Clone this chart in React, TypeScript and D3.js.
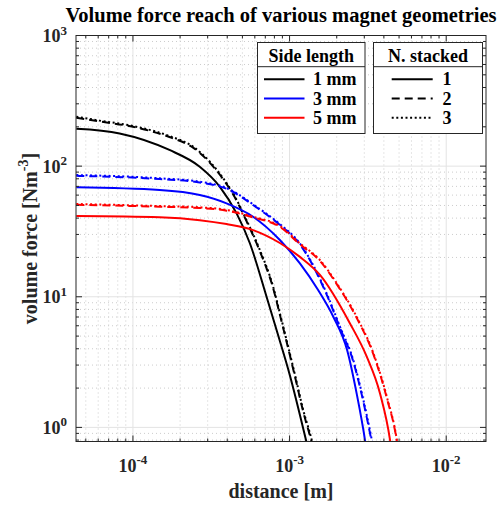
import React from "react";
import * as d3 from "d3";

const TITLE = "Volume force reach of various magnet geometries";
const X_LABEL = "distance [m]";
const Y_LABEL_MAIN = "volume force [Nm";
const Y_LABEL_SUP = "-3";
const Y_LABEL_END = "]";

const X_LIMITS = [4.33e-5, 0.01795];
const Y_LIMITS = [0.78, 1000];
const X_TICK_EXPONENTS = [-4, -3, -2];
const Y_TICK_EXPONENTS = [0, 1, 2, 3];

const SIDE_LENGTHS = ["1 mm", "3 mm", "5 mm"];
const STACK_COUNTS = ["1", "2", "3"];

// [distance (m), volume force (N m^-3)]
const side1_n1: [number, number][] = [
  [4.35e-5, 193], [8.22e-5, 178], [1.71e-4, 133], [2.67e-4, 99], [3.59e-4, 69.5],
  [4.59e-4, 43.5], [5.57e-4, 25.8], [7.13e-4, 10], [8.26e-4, 5.56], [1.004e-3, 2.51],
  [1.273e-3, 0.8], [1.3e-3, 0.72],
];
const side1_n2: [number, number][] = [
  [4.35e-5, 235], [6.12e-5, 220], [1.0e-4, 200], [1.71e-4, 167], [2.42e-4, 138.5],
  [3.1e-4, 106], [3.77e-4, 79.3], [4.36e-4, 60.8], [5.31e-4, 37.9], [6.46e-4, 22.3],
  [7.86e-4, 11.6], [8.67e-4, 7.3], [1.09e-3, 2.37], [1.222e-3, 1.32], [1.384e-3, 0.77],
  [1.42e-3, 0.68],
];
const side1_n3: [number, number][] = [
  [4.35e-5, 239], [6.12e-5, 223], [1.0e-4, 203], [1.71e-4, 170], [2.42e-4, 141],
  [3.1e-4, 108], [3.77e-4, 80.7], [4.36e-4, 61.9], [5.31e-4, 38.6], [6.46e-4, 22.8],
  [7.86e-4, 11.9], [8.67e-4, 7.5], [1.09e-3, 2.44], [1.222e-3, 1.36], [1.384e-3, 0.8],
  [1.42e-3, 0.7],
];
const side3_n1: [number, number][] = [
  [4.35e-5, 68.8], [1.48e-4, 65.6], [2.67e-4, 60.1], [3.96e-4, 51.9], [5.85e-4, 41.0],
  [8.67e-4, 27.2], [1.164e-3, 18.0], [1.518e-3, 11.3], [1.902e-3, 7.03], [2.33e-3, 3.91],
  [2.68e-3, 1.82], [3.03e-3, 0.8], [3.08e-3, 0.7],
];
const side3_n2: [number, number][] = [
  [4.35e-5, 84.3], [1.48e-4, 79.6], [2.67e-4, 75.0], [3.96e-4, 67.1], [6.15e-4, 48.3],
  [8.67e-4, 35.5], [1.164e-3, 25.2], [1.725e-3, 10.4], [2.1e-3, 5.76], [2.55e-3, 3.2],
  [2.96e-3, 1.57], [3.35e-3, 0.77], [3.42e-3, 0.68],
];
const side3_n3: [number, number][] = [
  [4.35e-5, 85.5], [1.48e-4, 80.7], [2.67e-4, 76.0], [3.96e-4, 68.0], [6.15e-4, 48.9],
  [8.67e-4, 36.0], [1.164e-3, 25.6], [1.725e-3, 10.6], [2.1e-3, 5.89], [2.55e-3, 3.28],
  [2.96e-3, 1.62], [3.35e-3, 0.8], [3.42e-3, 0.7],
];
const side5_n1: [number, number][] = [
  [4.35e-5, 41.5], [1.48e-4, 40.6], [2.67e-4, 38.6], [3.96e-4, 36.0], [5.85e-4, 32.4],
  [8.67e-4, 25.8], [1.164e-3, 20.2], [1.563e-3, 14.7], [2.43e-3, 6.25], [3.11e-3, 3.48],
  [3.78e-3, 1.82], [4.38e-3, 0.8], [4.45e-3, 0.7],
];
const side5_n2: [number, number][] = [
  [4.35e-5, 50.6], [1.48e-4, 48.9], [2.67e-4, 47.8], [3.96e-4, 45.6], [5.85e-4, 40.5],
  [8.67e-4, 34.3], [1.164e-3, 25.2], [1.563e-3, 18.8], [2.0e-3, 12.5], [2.68e-3, 6.9],
  [3.43e-3, 3.62], [4.18e-3, 1.67], [4.84e-3, 0.78], [4.92e-3, 0.68],
];
const side5_n3: [number, number][] = [
  [4.35e-5, 51.3], [1.48e-4, 49.5], [2.67e-4, 48.4], [3.96e-4, 46.2], [5.85e-4, 41.0],
  [8.67e-4, 34.8], [1.164e-3, 25.6], [1.563e-3, 19.1], [2.0e-3, 12.7], [2.68e-3, 7.03],
  [3.43e-3, 3.69], [4.18e-3, 1.71], [4.84e-3, 0.8], [4.92e-3, 0.7],
];

const COLORS = ["#000000", "#0000ff", "#ff0000"];
const DASHES = ["none", "8,5", "2,2.6"];

const SERIES = [
  { data: side1_n1, side: 0, stack: 0 },
  { data: side1_n2, side: 0, stack: 1 },
  { data: side1_n3, side: 0, stack: 2 },
  { data: side3_n1, side: 1, stack: 0 },
  { data: side3_n2, side: 1, stack: 1 },
  { data: side3_n3, side: 1, stack: 2 },
  { data: side5_n1, side: 2, stack: 0 },
  { data: side5_n2, side: 2, stack: 1 },
  { data: side5_n3, side: 2, stack: 2 },
];

const W = 499;
const H = 506;
const M = { left: 76, right: 13, top: 35.5, bottom: 64.5 };
const FONT = "'Liberation Serif', 'Times New Roman', serif";
const AXIS = "#262626";

export default function App() {
  const x = d3.scaleLog().domain(X_LIMITS).range([M.left, W - M.right]);
  const y = d3.scaleLog().domain(Y_LIMITS).range([H - M.bottom, M.top]);
  const [x0, x1] = x.range();
  const [y0, y1] = y.range();

  const line = d3
    .line<[number, number]>()
    .x((d) => x(d[0]))
    .y((d) => y(d[1]))
    .curve(d3.curveMonotoneX);

  const xMajor = X_TICK_EXPONENTS.map((e) => Math.pow(10, e));
  const yMajor = Y_TICK_EXPONENTS.map((e) => Math.pow(10, e));
  const minorOf = (dom: number[]) => {
    const out: number[] = [];
    const lo = Math.floor(Math.log10(dom[0]));
    const hi = Math.ceil(Math.log10(dom[1]));
    for (let e = lo; e <= hi; e++) {
      for (let k = 2; k <= 9; k++) {
        const v = k * Math.pow(10, e);
        if (v >= dom[0] && v <= dom[1]) out.push(v);
      }
    }
    return out;
  };
  const xMinor = minorOf(X_LIMITS);
  const yMinor = minorOf(Y_LIMITS);

  const majorLen = 6;
  const minorLen = 3;

  // legend geometry
  const lg1 = { x: 257.5, w: 107.5 };
  const lg2 = { x: 373.5, w: 109 };
  const lgTop = 42.5;
  const lgH = 91;
  const lgSep = 66.7;
  const rowY = [79.3, 98.5, 117.7];

  return (
    <svg
      width={W}
      height={H}
      style={{ position: "absolute", left: 0, top: 0, background: "#fff" }}
      fontFamily={FONT}
    >
      <defs>
        <clipPath id="plotclip">
          <rect x={x0} y={y1} width={x1 - x0} height={y0 - y1} />
        </clipPath>
      </defs>
      <rect x={0} y={0} width={W} height={H} fill="#fff" />

      {/* minor grid */}
      <g stroke="#cccccc" strokeWidth={1} strokeDasharray="1,3">
        {xMinor.map((v) => (
          <line key={"xm" + v} x1={x(v)} x2={x(v)} y1={y0} y2={y1} />
        ))}
        {yMinor.map((v) => (
          <line key={"ym" + v} x1={x0} x2={x1} y1={y(v)} y2={y(v)} />
        ))}
      </g>
      {/* major grid */}
      <g stroke="#e3e3e3" strokeWidth={1}>
        {xMajor.map((v) => (
          <line key={"xg" + v} x1={x(v)} x2={x(v)} y1={y0} y2={y1} />
        ))}
        {yMajor.map((v) => (
          <line key={"yg" + v} x1={x0} x2={x1} y1={y(v)} y2={y(v)} />
        ))}
      </g>

      {/* series */}
      <g clipPath="url(#plotclip)" fill="none" strokeWidth={2}>
        {SERIES.map((s, i) => (
          <path
            key={i}
            d={line(s.data) || ""}
            stroke={COLORS[s.side]}
            strokeDasharray={DASHES[s.stack]}
          />
        ))}
      </g>

      {/* ticks */}
      <g stroke={AXIS} strokeWidth={1}>
        {xMajor.map((v) => (
          <g key={"xt" + v}>
            <line x1={x(v)} x2={x(v)} y1={y0} y2={y0 - majorLen} />
            <line x1={x(v)} x2={x(v)} y1={y1} y2={y1 + majorLen} />
          </g>
        ))}
        {xMinor.map((v) => (
          <g key={"xmt" + v}>
            <line x1={x(v)} x2={x(v)} y1={y0} y2={y0 - minorLen} />
            <line x1={x(v)} x2={x(v)} y1={y1} y2={y1 + minorLen} />
          </g>
        ))}
        {yMajor.map((v) => (
          <g key={"yt" + v}>
            <line x1={x0} x2={x0 + majorLen} y1={y(v)} y2={y(v)} />
            <line x1={x1} x2={x1 - majorLen} y1={y(v)} y2={y(v)} />
          </g>
        ))}
        {yMinor.map((v) => (
          <g key={"ymt" + v}>
            <line x1={x0} x2={x0 + minorLen} y1={y(v)} y2={y(v)} />
            <line x1={x1} x2={x1 - minorLen} y1={y(v)} y2={y(v)} />
          </g>
        ))}
      </g>
      <rect
        x={x0}
        y={y1}
        width={x1 - x0}
        height={y0 - y1}
        fill="none"
        stroke={AXIS}
        strokeWidth={1}
      />

      {/* tick labels */}
      <g fontWeight="bold" fill="#262626" fontSize={18}>
        {X_TICK_EXPONENTS.map((e) => (
          <text key={"xl" + e} x={x(Math.pow(10, e))} y={472} textAnchor="middle">
            <tspan>10</tspan>
            <tspan dy={-8.5} fontSize={13}>{String(e)}</tspan>
          </text>
        ))}
        {Y_TICK_EXPONENTS.map((e) => (
          <text key={"yl" + e} x={67} y={y(Math.pow(10, e)) + 6.5} textAnchor="end">
            <tspan>10</tspan>
            <tspan dy={-7.5} fontSize={13}>{String(e)}</tspan>
          </text>
        ))}
      </g>

      {/* axis labels and title */}
      <text
        x={(x0 + x1) / 2}
        y={498}
        textAnchor="middle"
        fontWeight="bold"
        fontSize={20}
        fill="#262626"
      >
        {X_LABEL}
      </text>
      <text
        transform={`translate(37,${(y0 + y1) / 2}) rotate(-90)`}
        textAnchor="middle"
        fontWeight="bold"
        fontSize={20}
        fill="#262626"
      >
        <tspan>{Y_LABEL_MAIN}</tspan>
        <tspan dy={-9} fontSize={14}>{Y_LABEL_SUP}</tspan>
        <tspan dy={9}>{Y_LABEL_END}</tspan>
      </text>
      <text
        x={(x0 + x1) / 2}
        y={22}
        textAnchor="middle"
        fontWeight="bold"
        fontSize={20.5}
        fill="#000"
      >
        {TITLE}
      </text>

      {/* legends */}
      {[
        { g: lg1, title: "Side length", labels: SIDE_LENGTHS, kind: "side" },
        { g: lg2, title: "N. stacked", labels: STACK_COUNTS, kind: "stack" },
      ].map((L) => (
        <g key={L.title}>
          <rect
            x={L.g.x}
            y={lgTop}
            width={L.g.w}
            height={lgH}
            fill="#fff"
            stroke={AXIS}
            strokeWidth={1}
          />
          <line x1={L.g.x} x2={L.g.x + L.g.w} y1={lgSep} y2={lgSep} stroke={AXIS} strokeWidth={1} />
          <text
            x={L.g.x + L.g.w / 2}
            y={61.5}
            textAnchor="middle"
            fontWeight="bold"
            fontSize={18}
            fill="#000"
          >
            {L.title}
          </text>
          {L.labels.map((lab, i) => {
            const isSide = L.kind === "side";
            const lx0 = isSide ? 264 : 391.7;
            const lx1 = isSide ? 304.5 : 432.7;
            const tx = isSide ? 313 : 442.5;
            return (
              <g key={lab}>
                <line
                  x1={lx0}
                  x2={lx1}
                  y1={rowY[i]}
                  y2={rowY[i]}
                  stroke={isSide ? COLORS[i] : "#000"}
                  strokeWidth={2}
                  strokeDasharray={isSide ? "none" : DASHES[i]}
                />
                <text x={tx} y={rowY[i] + 6} fontWeight="bold" fontSize={18} fill="#000">
                  {lab}
                </text>
              </g>
            );
          })}
        </g>
      ))}
    </svg>
  );
}
